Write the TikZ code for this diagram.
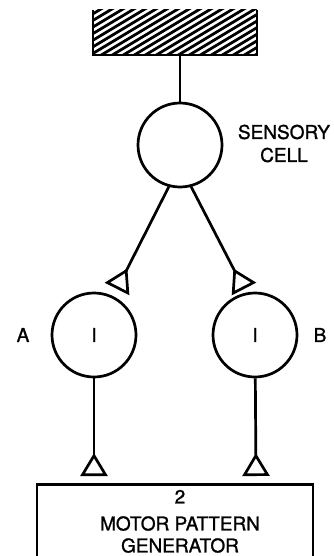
\documentclass[tikz,border=0pt]{standalone}
\usepackage{fontspec}
\setmainfont{TeX Gyre Heros}[FakeBold=1.2]
\usetikzlibrary{arrows.meta}
\tikzset{
	cell/.style={draw, circle, minimum size=84pt, inner sep=0pt},
	syn/.style={-{Triangle[open,reversed,length=23pt,width=27pt]}},
}
\begin{document}
\begin{tikzpicture}[x=1pt,y=-1pt,line width=2.7pt,font=\fontsize{19}{22}\selectfont]
		\useasboundingbox (0,0) rectangle (333,556);
		\clip (0,0) rectangle (333,556);
		% stimulus (hatched)
		\begin{scope}
			\clip (93,10) rectangle (257,55);
			\foreach \i in {0,...,24} \draw[line width=2.8pt] (5+11*\i,60) -- ++(90,-54);
		\end{scope}
		\draw (93,10) -- (93,55) -- (257,55) -- (257,10);
		\coordinate (st) at (180,55);
		% cells
		\node[cell] (s) at (180,145) {};
		\node[align=center,font=\fontsize{19}{23}\selectfont] (sl) at (284,143.5) {SENSORY\\CELL};
		\node[cell] (a) at (94,335) {I};
		\node[cell] (b) at (255,335) {I};
		\node (la) at (23,335) {A};
		\node (lb) at (320,335) {B};
		\coordinate (ta) at (117,289);
		\coordinate (tb) at (244,289);
		\coordinate (ma) at (94,476);
		\coordinate (mb) at (256,476);
		% generator
		\node[draw,minimum width=276pt,minimum height=100pt,anchor=north] (g) at (175,483) {};
		\node[align=center,anchor=north,inner sep=0pt] (gl) at (180,488.6) {2\\[5pt]MOTOR PATTERN\\GENERATOR};
		\draw (st)--(s);
		\draw [syn] (s.255)--(ta);
		\draw [syn] (s.285)--(tb);
		\draw [syn] (a)--(ma);
		\draw [syn] (b)--(mb);
\end{tikzpicture}
\end{document}
